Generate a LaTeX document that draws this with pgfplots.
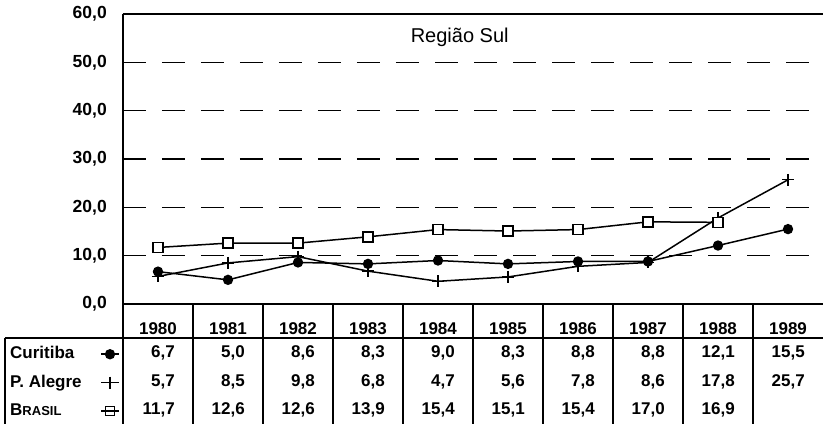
\documentclass[border=0pt]{standalone}
\usepackage{fontspec}
\setmainfont{Liberation Sans}
\usepackage{pgfplots}
\pgfplotsset{compat=1.18}
\begin{document}
\begin{tikzpicture}
\begin{axis}[
  scale only axis, width=700pt, height=290pt,
  xmin=-0.5, xmax=9.5, ymin=0, ymax=60,
  clip=false,
  axis line style={draw=none},
  ytick={0,10,20,30,40,50,60},
  xtick={0,1,2,3,4,5,6,7,8,9},
  xticklabels={1980,1981,1982,1983,1984,1985,1986,1987,1988,1989},
  major tick length=0pt,
  ymajorgrids,
  grid style={black, line width=1.6pt, dash pattern=on 23pt off 16pt},
  yticklabel style={font=\fontsize{17.5}{17.5}\selectfont\bfseries, inner sep=0pt, anchor=east, xshift=-16pt},
  xticklabel style={font=\fontsize{17}{17}\selectfont\bfseries, inner sep=0pt, anchor=center, yshift=-25pt},
  /pgf/number format/fixed,
  /pgf/number format/fixed zerofill,
  /pgf/number format/precision=1,
  /pgf/number format/use comma,
  /pgf/number format/assume math mode=true,
  legend plot pos=right,
  legend cell align=left,
  legend style={at={(axis cs:-2.114,-8.8)}, anchor=north west, draw=none, fill=none,
    inner sep=0pt, row sep=13.5pt, column sep=19pt,
    font=\fontsize{17}{17}\selectfont\bfseries,
    nodes={inner sep=0pt, text height=12pt, text depth=3pt}},
]
% frame and table lines
\draw[line width=2pt] (axis cs:-0.5,0) -- (axis cs:9.5,0);
\draw[line width=2pt] (axis cs:-0.5,60) -- (axis cs:9.5,60);
\draw[line width=2pt] (axis cs:-0.5,60) -- (axis cs:-0.5,-24.83);
\pgfplotsinvokeforeach{0.5,1.5,2.5,3.5,4.5,5.5,6.5,7.5,8.5}{\draw[line width=1.4pt] (axis cs:#1,0) -- (axis cs:#1,-24.83);}
\draw[line width=1.4pt] (axis cs:-2.186,-7.03) -- (axis cs:9.5,-7.03);
\draw[line width=1.4pt] (axis cs:-2.186,-7.03) -- (axis cs:-2.186,-24.83);
\coordinate (BL) at (axis cs:-2.257,-24.83);
\coordinate (TR) at (axis cs:9.5,62.9);

\node[font=\fontsize{20}{20}\selectfont] at (axis cs:4.31,55.2) {Região Sul};

\addplot[black, line width=1.5pt, mark=*, mark size=4.4pt] coordinates {
  (0,6.7) (1,5.0) (2,8.6) (3,8.3) (4,9.0) (5,8.3) (6,8.8) (7,8.8) (8,12.1) (9,15.5)};
\addlegendentry{Curitiba}
\addplot[black, line width=1.5pt, mark=+, mark size=6pt, mark options={line width=1.4pt}] coordinates {
  (0,5.7) (1,8.5) (2,9.8) (3,6.8) (4,4.7) (5,5.6) (6,7.8) (7,8.6) (8,17.8) (9,25.7)};
\addlegendentry{P. Alegre}
\addplot[black, line width=1.5pt, mark=square*, mark size=5pt, mark options={fill=white, line width=1.4pt},
  legend image code/.code={\draw[black, line width=1.5pt, mark repeat=2, mark phase=2, mark=square, mark size=4.5pt, mark options={line width=1.4pt}]
    plot coordinates {(0cm,0cm) (0.3cm,0cm) (0.6cm,0cm)};}] coordinates {
  (0,11.7) (1,12.6) (2,12.6) (3,13.9) (4,15.4) (5,15.1) (6,15.4) (7,17.0) (8,16.9)};
\addlegendentry{B{\fontsize{13}{13}\selectfont RASIL}}

% table values
\begin{scope}[every node/.style={anchor=east, inner sep=0pt, font=\fontsize{17}{17}\selectfont\bfseries}]
\node at (axis cs:0.243,-10.14) {6,7};
\node at (axis cs:1.243,-10.14) {5,0};
\node at (axis cs:2.243,-10.14) {8,6};
\node at (axis cs:3.243,-10.14) {8,3};
\node at (axis cs:4.243,-10.14) {9,0};
\node at (axis cs:5.243,-10.14) {8,3};
\node at (axis cs:6.243,-10.14) {8,8};
\node at (axis cs:7.243,-10.14) {8,8};
\node at (axis cs:8.243,-10.14) {12,1};
\node at (axis cs:9.243,-10.14) {15,5};
\node at (axis cs:0.243,-16.03) {5,7};
\node at (axis cs:1.243,-16.03) {8,5};
\node at (axis cs:2.243,-16.03) {9,8};
\node at (axis cs:3.243,-16.03) {6,8};
\node at (axis cs:4.243,-16.03) {4,7};
\node at (axis cs:5.243,-16.03) {5,6};
\node at (axis cs:6.243,-16.03) {7,8};
\node at (axis cs:7.243,-16.03) {8,6};
\node at (axis cs:8.243,-16.03) {17,8};
\node at (axis cs:9.243,-16.03) {25,7};
\node at (axis cs:0.243,-21.93) {11,7};
\node at (axis cs:1.243,-21.93) {12,6};
\node at (axis cs:2.243,-21.93) {12,6};
\node at (axis cs:3.243,-21.93) {13,9};
\node at (axis cs:4.243,-21.93) {15,4};
\node at (axis cs:5.243,-21.93) {15,1};
\node at (axis cs:6.243,-21.93) {15,4};
\node at (axis cs:7.243,-21.93) {17,0};
\node at (axis cs:8.243,-21.93) {16,9};
\end{scope}
\end{axis}
\pgfresetboundingbox
\path (BL) rectangle (TR);
\end{tikzpicture}
\end{document}
